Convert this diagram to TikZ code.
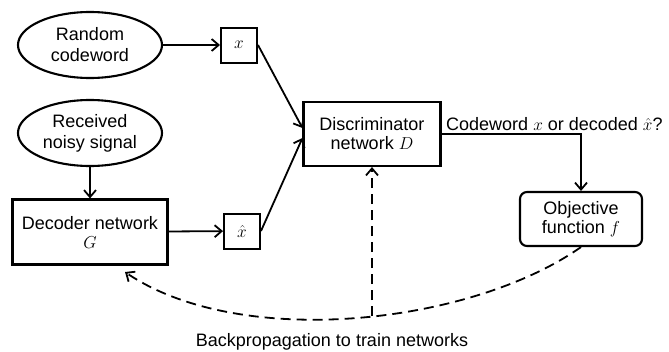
\documentclass[tikz,border=0pt]{standalone}
\usepackage{fontspec}
\setmainfont{Liberation Sans}
\usetikzlibrary{arrows.meta,shapes.geometric,calc}
\begin{document}
\begin{tikzpicture}[x=1pt,y=-1pt,
  every node/.style={font=\fontsize{18}{21}\selectfont, align=center},
  src/.style={draw, line width=2.1pt, ellipse, minimum width=144pt, minimum height=66pt, inner sep=0pt},
  blk/.style={draw, line width=2.1pt, rectangle, inner sep=0pt},
  sig/.style={draw, line width=2pt, rectangle, minimum width=36pt, minimum height=35pt, inner sep=0pt},
  flow/.style={line width=1.8pt, -{Straight Barb[length=7pt,width=12pt,line width=1.8pt]}},
  back/.style={flow, dash pattern=on 10pt off 6pt}]
\useasboundingbox (0,0) rectangle (669,351);

\node[src] (rc) at (90,45) {Random\\codeword};
\node[src] (rn) at (90,133) {Received\\noisy signal};
\node[sig] (x) at (239,45) {$x$};
\node[blk, minimum width=155pt, minimum height=65pt] (G) at (90,232) {Decoder network\\[-2pt]$G$};
\node[sig] (xh) at (242,231) {$\hat{x}$};
\node[blk, minimum width=137pt, minimum height=64pt] (D) at (372,134) {Discriminator\\[-2pt]network $D$};
\node[blk, rounded corners=7pt, minimum width=122pt, minimum height=54pt] (f) at (581,219) {Objective\\[-2pt]function $f$};

\draw[flow] (rc) -- (x);
\draw[flow] (rn) -- (G);
\draw[flow] (G) -- (xh);
\draw[flow] (x.east) -- ($(D.west)+(0,-6)$);
\draw[flow] (xh.east) -- ($(D.west)+(0,4)$);
\draw[flow] (D.east) -| (f.north);
\node[anchor=south west, inner sep=0pt] (q) at (446,131) {Codeword $x$ or decoded $\hat{x}$?};

\coordinate (gend) at (125,272);
\draw[back] (f.south) .. controls (470,325) and (240,350) .. coordinate[pos=0.46] (m) (gend);
\draw[back] (D.south |- m) -- (D.south);
\node (bp) at (332,342) {Backpropagation to train networks};
\end{tikzpicture}
\end{document}
